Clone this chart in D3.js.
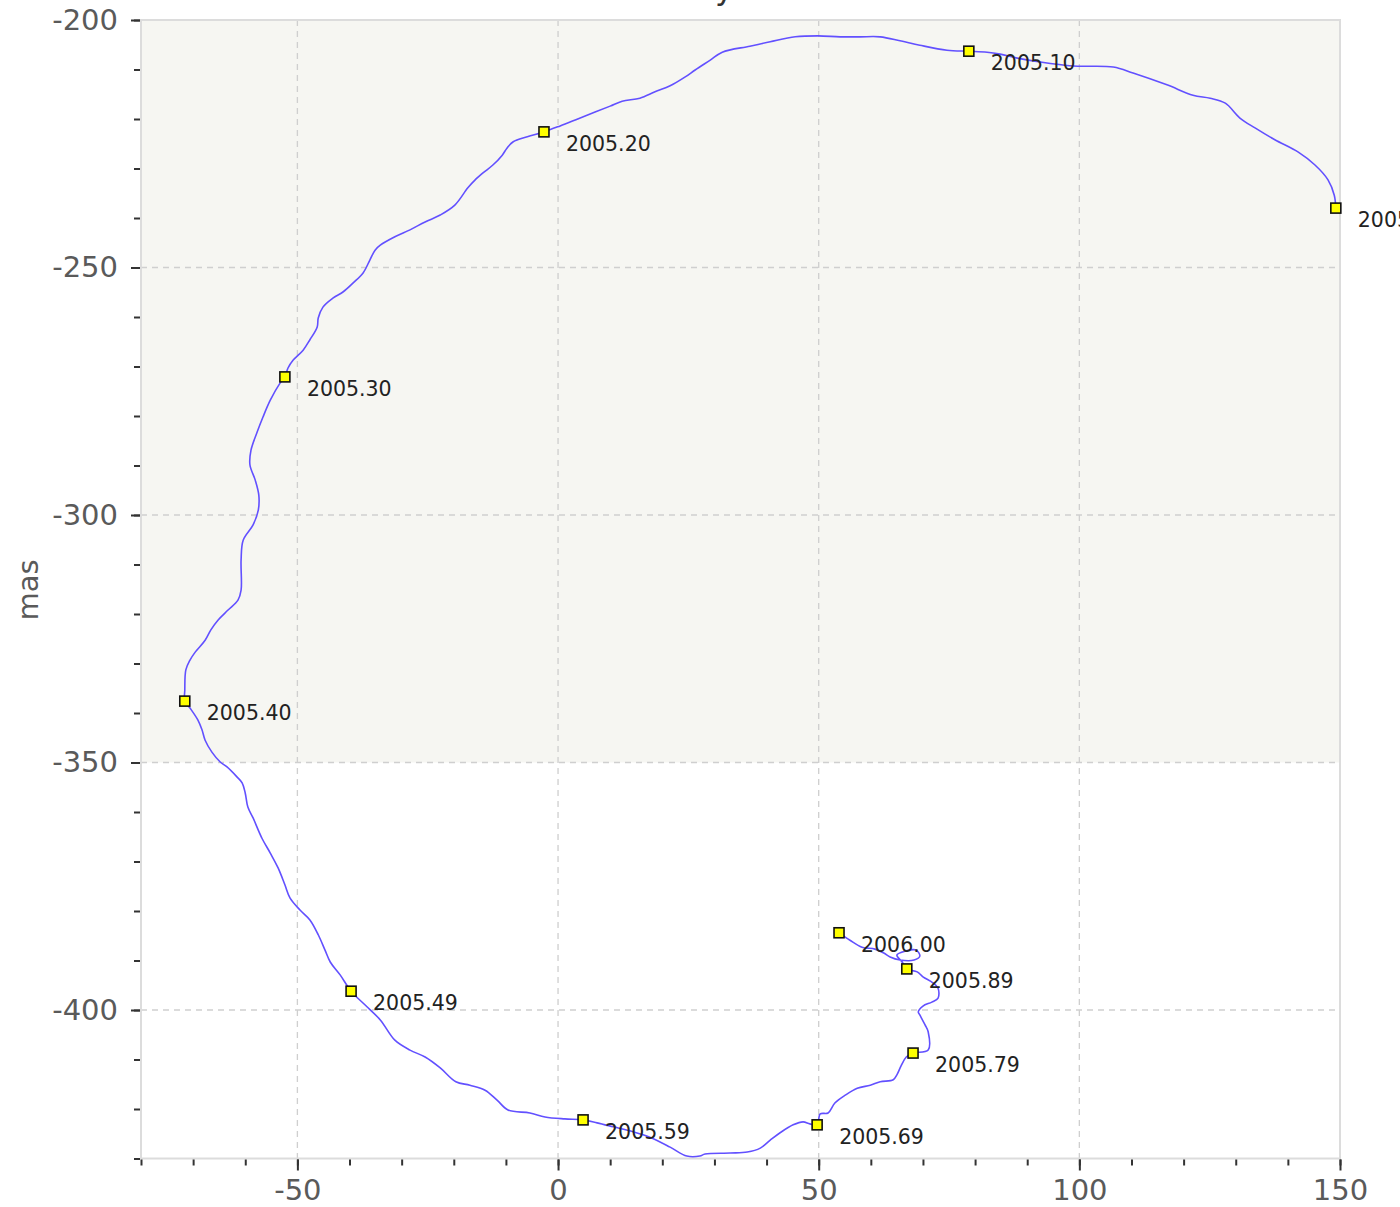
<!DOCTYPE html>
<html>
<head>
<meta charset="utf-8">
<script src="https://cdn.jsdelivr.net/npm/d3@7/dist/d3.min.js"></script>
<style>
  html, body { margin: 0; padding: 0; background: #fff; }
  svg { display: block; font-family: "DejaVu Sans", Verdana, sans-serif; }
</style>
</head>
<body>
<svg id="chart" width="1400" height="1207"></svg>
<script>
// ---- Data (mas) ----
const titleText = "Astrometry";
const yAxisLabel = "mas";
const xMajorTicks = [-50, 0, 50, 100, 150];
const yMajorTicks = [-200, -250, -300, -350, -400];
const xMinorTicks = d3.range(-80, 151, 10);
const yMinorTicks = d3.range(-200, -431, -10);
const shadedBand = [-200, -350];

// trajectory track, from epoch 2005.00 to 2006.00
const trackX = [
  149.2, 148.9, 147.7, 145.2, 142.0, 137.5, 133.7, 130.8, 128.0, 125.1, 121.8, 116.8, 110.3, 106.5, 98.8, 92.5, 88.1, 84.8, 82.3, 78.8,
  74.6, 69.4, 65.6, 61.8, 57.9, 54.1, 49.9, 45.5, 40.7, 36.8, 31.5, 29.2, 26.3, 24.4, 21.5, 18.6, 15.7, 12.3, 10.0, 7.1, 3.3, 0.4, -2.7,
  -5.9, -8.6, -9.8, -10.7, -12.5, -14.4, -15.9, -17.3, -19.8, -22.6, -25.5, -28.4, -31.3, -34.1, -35.1, -36.1, -37.4, -39.3, -41.2, -43.2, -45.1, -46.0, -46.2, -47.6, -48.9, -50.8, -51.8, -52.4,
  -53.3, -55.2, -56.6, -57.7, -58.9, -59.1, -58.1, -57.4, -57.5, -58.5, -60.4, -60.8, -60.8, -61.4, -63.3, -65.2, -66.6, -67.7, -69.6, -70.6, -71.4, -71.6, -71.6,
  -70.6, -69.1, -68.3, -67.7, -66.4, -64.8, -63.5, -61.6, -60.6, -60.0, -59.5, -58.5, -56.8, -55.2, -53.7, -52.4, -51.4, -49.5, -47.6, -46.0, -44.7, -43.7, -41.8, -39.7,
  -37.0, -34.1, -31.3, -28.4, -25.5, -22.6, -19.6, -16.9, -14.0, -11.7, -9.6, -5.4, -2.5, 1.3, 4.8,
  7.5, 10.6, 14.4, 17.6, 21.5, 24.7, 27.2, 28.2, 33.0, 36.3, 38.8, 40.7, 42.6, 45.1, 47.0, 48.3, 49.7,
  50.3, 51.8, 53.1, 55.1, 57.4, 59.9, 61.8, 64.3, 65.0, 65.8, 66.8, 68.1,
  71.0, 71.0, 70.4, 69.4, 69.1, 70.0, 71.7, 72.9, 72.9, 71.9, 70.0, 68.9, 66.9,
  66.0, 65.0, 66.6, 68.7, 69.4, 68.3, 65.6, 63.7, 62.5, 60.8, 58.3, 56.0, 53.9
];
const trackY = [
  -238.0, -235.4, -232.3, -229.3, -226.7, -224.2, -221.8, -219.8, -216.8, -215.8, -215.2, -213.1, -210.7, -209.5, -209.3, -208.5, -207.7, -206.9, -206.5, -206.3,
  -206.1, -205.1, -204.2, -203.4, -203.4, -203.4, -203.2, -203.4, -204.4, -205.3, -206.5, -208.1, -210.1, -211.5, -213.3, -214.5, -215.8, -216.4, -217.4, -218.6, -220.2, -221.4, -222.6,
  -223.6, -224.6, -225.9, -227.3, -229.3, -230.9, -232.3, -233.9, -237.4, -239.4, -240.8, -242.4, -243.8, -245.5, -246.5, -248.5, -251.1, -253.1, -254.9, -256.2, -258.0, -260.2, -262.0, -264.6, -266.7, -268.7, -270.3, -272.1,
  -273.3, -276.8, -280.2, -283.2, -286.9, -289.9, -292.9, -296.0, -299.0, -302.0, -305.1, -309.1, -315.2, -317.2, -319.2, -321.2, -323.2, -325.3, -327.7, -329.3, -331.3, -335.4, -337.6,
  -339.0, -341.4, -343.4, -345.5, -347.9, -349.9, -350.9, -352.9, -354.1, -356.2, -359.0, -361.2, -365.3, -368.3, -371.3, -374.7, -377.4, -379.8, -381.8, -384.8, -387.9, -390.3, -392.9, -396.2,
  -399.0, -402.0, -406.1, -408.1, -409.5, -411.7, -414.5, -415.2, -416.2, -418.2, -420.2, -420.8, -421.6, -422.0, -422.2,
  -422.8, -423.6, -424.6, -425.7, -427.7, -429.5, -429.5, -429.1, -428.9, -428.7, -427.9, -426.3, -424.8, -423.2, -422.6, -423.0, -423.2,
  -421.0, -420.8, -418.8, -417.2, -415.8, -415.2, -414.5, -414.1, -413.1, -411.3, -409.5, -408.7,
  -408.1, -404.4, -403.0, -401.0, -400.4, -399.2, -398.4, -397.6, -395.6, -394.5, -393.3, -392.3, -391.7,
  -390.3, -388.9, -388.1, -387.9, -389.1, -389.9, -389.9, -389.3, -388.5, -387.7, -387.3, -385.9, -384.4
];

// epoch markers
const epochLabels = ["2005.00", "2005.10", "2005.20", "2005.30", "2005.40", "2005.49", "2005.59", "2005.69", "2005.79", "2005.89", "2006.00"];
const epochX = [149.2, 78.8, -2.7, -52.4, -71.6, -39.7, 4.8, 49.7, 68.1, 66.9, 53.9];
const epochY = [-238.0, -206.3, -222.6, -272.1, -337.6, -396.2, -422.2, -423.2, -408.7, -391.7, -384.4];

// ---- Drawing ----
const svg = d3.select("#chart");
const L = 141, R = 1340, T = 20, B = 1158.5;
const x = d3.scaleLinear().domain([-80, 150]).range([L, R]);
const y = d3.scaleLinear().domain([-200, -430]).range([T, B]);

// title (mostly outside the page at top)
svg.append("text").attr("x", 734).attr("y", -1).attr("text-anchor", "end")
  .attr("font-size", 32).attr("fill", "#333").text(titleText);

// background band
svg.append("rect").attr("x", L).attr("width", R - L)
  .attr("y", y(shadedBand[0])).attr("height", y(shadedBand[1]) - y(shadedBand[0]))
  .attr("fill", "#f6f6f2");

// grid
const grid = svg.append("g").attr("stroke", "#cfcfcf").attr("stroke-width", 1.3).attr("stroke-dasharray", "6,5");
grid.selectAll("line.v").data(xMajorTicks).join("line")
  .attr("x1", d => x(d)).attr("x2", d => x(d)).attr("y1", T).attr("y2", B);
grid.selectAll("line.h").data(yMajorTicks).join("line")
  .attr("y1", d => y(d)).attr("y2", d => y(d)).attr("x1", L).attr("x2", R);

// frame
svg.append("rect").attr("x", L).attr("y", T).attr("width", R - L).attr("height", B - T)
  .attr("fill", "none").attr("stroke", "#dcdcdc").attr("stroke-width", 2);

// axes
function styleAxis(g) {
  g.select(".domain").remove();
  g.selectAll(".tick line").attr("stroke", "#333").attr("stroke-width", 2);
  g.selectAll(".tick text").attr("fill", "#5a5a5a").attr("font-size", 29)
    .attr("font-family", "DejaVu Sans, Verdana, sans-serif");
}
svg.append("g").attr("transform", `translate(${L - 1},0)`)
  .call(d3.axisLeft(y).tickValues(yMinorTicks).tickSize(6).tickFormat(""))
  .call(styleAxis);
svg.append("g").attr("transform", `translate(${L - 1},0)`)
  .call(d3.axisLeft(y).tickValues(yMajorTicks).tickSize(9).tickPadding(13).tickFormat(d3.format("d")))
  .call(styleAxis);
svg.append("g").attr("transform", `translate(0,${B + 1})`)
  .call(d3.axisBottom(x).tickValues(xMinorTicks).tickSize(6).tickFormat(""))
  .call(styleAxis);
svg.append("g").attr("transform", `translate(0,${B + 1})`)
  .call(d3.axisBottom(x).tickValues(xMajorTicks).tickSize(11).tickPadding(9).tickFormat(d3.format("d")))
  .call(styleAxis);

// fix minus sign to hyphen-like as in reference
svg.selectAll(".tick text").text(function() { return this.textContent.replace("\u2212", "-"); });

// y axis label
svg.append("text").attr("transform", `translate(38,590) rotate(-90)`)
  .attr("text-anchor", "middle").attr("font-size", 29).attr("fill", "#5a5a5a").text(yAxisLabel);

// track
const pts = trackX.map((d, i) => [d, trackY[i]]);
svg.append("path").datum(pts)
  .attr("d", d3.line().curve(d3.curveCatmullRom.alpha(0.5)).x(d => x(d[0])).y(d => y(d[1])))
  .attr("fill", "none").attr("stroke", "#6250ff").attr("stroke-width", 1.6)
  .attr("stroke-linejoin", "round");

// markers
const ep = epochLabels.map((l, i) => ({ l, x: epochX[i], y: epochY[i] }));
svg.selectAll("rect.mk").data(ep).join("rect")
  .attr("x", d => x(d.x) - 5).attr("y", d => y(d.y) - 5).attr("width", 10).attr("height", 10)
  .attr("fill", "#ffff00").attr("stroke", "#111").attr("stroke-width", 1.6);
svg.selectAll("text.lb").data(ep).join("text")
  .attr("x", d => x(d.x) + 22).attr("y", d => y(d.y) + 19)
  .attr("font-size", 20.5).attr("fill", "#222").text(d => d.l);
</script>
</body>
</html>
